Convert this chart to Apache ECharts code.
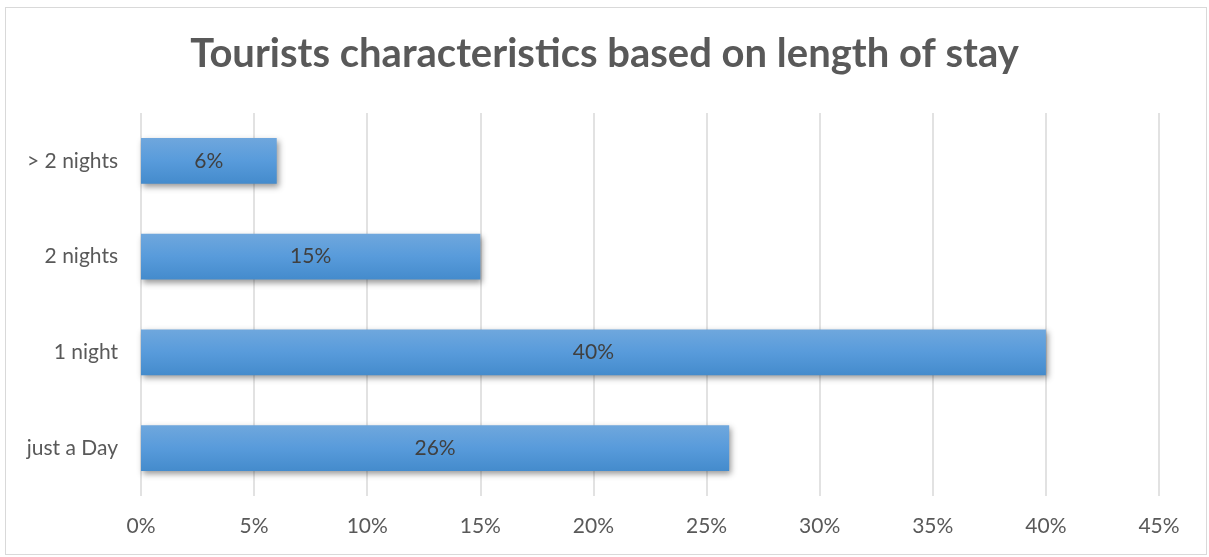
<!DOCTYPE html>
<html>
<head>
<meta charset="utf-8">
<script src="https://cdn.jsdelivr.net/npm/echarts@6/dist/echarts.min.js"></script>
<style>
  html, body { margin: 0; padding: 0; background: #fff; }
  #frame { position: absolute; left: 5px; top: 7px; width: 1202px; height: 548px; border: 1px solid #d9d9d9; box-sizing: border-box; }
  #chart { position: absolute; left: 0; top: 0; width: 1209px; height: 557px; }
</style>
</head>
<body>
<div id="frame"></div>
<div id="chart"></div>
<script>
// Length-of-stay categories, bottom to top as drawn on the category axis
const categories = ['just a Day', '1 night', '2 nights', '> 2 nights'];
// Share of tourists in each category (percent)
const shares = [26, 40, 15, 6];
// Value-axis ticks (percent)
const tickValues = [0, 5, 10, 15, 20, 25, 30, 35, 40, 45];

const FONT = 'Lato, "Open Sans", sans-serif';

const chart = echarts.init(document.getElementById('chart'), null, { renderer: 'canvas' });
chart.setOption({
  animation: false,
  title: {
    text: 'Tourists characteristics based on length of stay',
    left: 'center',
    top: 29,
    textStyle: { fontFamily: FONT, fontWeight: 'bold', fontSize: 40, color: '#595959' }
  },
  grid: { left: 141, right: 50, top: 113, bottom: 61, containLabel: false },
  xAxis: {
    type: 'value',
    min: tickValues[0],
    max: tickValues[tickValues.length - 1],
    interval: 5,
    axisLine: { show: false },
    axisTick: { show: false },
    splitLine: { lineStyle: { color: '#d9d9d9', width: 1.5 } },
    axisLabel: {
      formatter: v => v + '%',
      fontFamily: FONT, fontSize: 21, color: '#595959', margin: 20
    }
  },
  yAxis: {
    type: 'category',
    data: categories,
    axisLine: { show: false },
    axisTick: { show: false },
    axisLabel: { fontFamily: FONT, fontSize: 21, color: '#595959', margin: 23 }
  },
  series: [{
    type: 'bar',
    data: shares,
    barWidth: '48%',
    itemStyle: {
      color: new echarts.graphic.LinearGradient(0, 0, 0, 1, [
        { offset: 0, color: '#6fa7dd' },
        { offset: 0.5, color: '#589bdb' },
        { offset: 1, color: '#448bcc' }
      ]),
      shadowColor: 'rgba(0,0,0,0.4)',
      shadowBlur: 6,
      shadowOffsetX: 2,
      shadowOffsetY: 3
    },
    label: {
      show: true,
      position: 'inside',
      formatter: p => p.value + '%',
      fontFamily: FONT, fontSize: 21, color: '#404040'
    }
  }]
});
</script>
</body>
</html>
